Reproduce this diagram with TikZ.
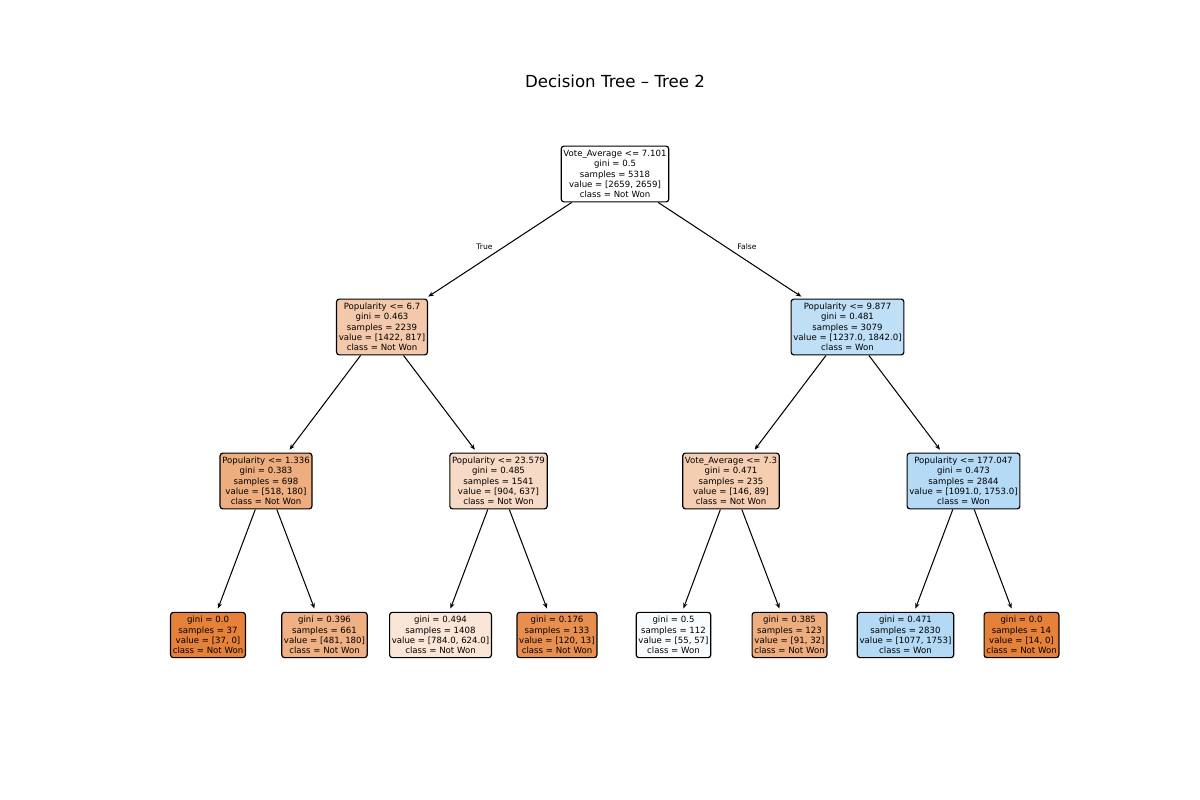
\documentclass[tikz,border=0pt]{standalone}
\usepackage{fontspec}
\setmainfont{DejaVu Sans}
\usetikzlibrary{arrows.meta}
\definecolor{cRoot}{RGB}{255,255,255}
\definecolor{cB}{RGB}{244,201,171}
\definecolor{cC}{RGB}{190,223,246}
\definecolor{cD}{RGB}{238,173,126}
\definecolor{cE}{RGB}{247,218,197}
\definecolor{cF}{RGB}{245,206,178}
\definecolor{cG}{RGB}{180,218,245}
\definecolor{cLa}{RGB}{229,129,57}
\definecolor{cLb}{RGB}{239,176,131}
\definecolor{cLc}{RGB}{250,229,215}
\definecolor{cLd}{RGB}{232,143,79}
\definecolor{cLe}{RGB}{248,252,254}
\definecolor{cLf}{RGB}{238,173,127}
\definecolor{cLg}{RGB}{179,217,245}
\definecolor{cLh}{RGB}{229,129,57}
\begin{document}
\begin{tikzpicture}[x=0.01in,y=-0.01in,
  tn/.style={draw=black, line width=0.85pt, rounded corners=2pt, align=center,
    font=\fontsize{6.2}{7.44}\selectfont, inner xsep=1.6pt, inner ysep=1pt, minimum height=40.3pt},
  lf/.style={tn, minimum height=32.7pt},
  edge/.style={-{Stealth[length=4pt,width=3.2pt]}, line width=0.75pt, shorten >=2.5pt},
  elab/.style={font=\fontsize{5.5}{6.6}\selectfont, inner sep=0pt}]
\useasboundingbox (0,0) rectangle (1200,800);
\node[font=\fontsize{12}{14.4}\selectfont, anchor=base, inner sep=0pt] (title) at (615,88) {Decision Tree – Tree 2};

\node[tn, fill=cRoot] (root) at (615,174) {Vote\_Average <= 7.101\\gini = 0.5\\samples = 5318\\value = [2659, 2659]\\class = Not Won};

\node[tn, fill=cB] (b) at (382,327) {Popularity <= 6.7\\gini = 0.463\\samples = 2239\\value = [1422, 817]\\class = Not Won};
\node[tn, fill=cC] (c) at (847.5,327) {Popularity <= 9.877\\gini = 0.481\\samples = 3079\\value = [1237.0, 1842.0]\\class = Won};

\node[tn, fill=cD] (d) at (266,481) {Popularity <= 1.336\\gini = 0.383\\samples = 698\\value = [518, 180]\\class = Not Won};
\node[tn, fill=cE] (e) at (498.5,481) {Popularity <= 23.579\\gini = 0.485\\samples = 1541\\value = [904, 637]\\class = Not Won};
\node[tn, fill=cF] (f) at (731,481) {Vote\_Average <= 7.3\\gini = 0.471\\samples = 235\\value = [146, 89]\\class = Not Won};
\node[tn, fill=cG] (g) at (963.5,481) {Popularity <= 177.047\\gini = 0.473\\samples = 2844\\value = [1091.0, 1753.0]\\class = Won};

\node[lf, fill=cLa] (l1) at (208,635) {gini = 0.0\\samples = 37\\value = [37, 0]\\class = Not Won};
\node[lf, fill=cLb] (l2) at (324.5,635) {gini = 0.396\\samples = 661\\value = [481, 180]\\class = Not Won};
\node[lf, fill=cLc] (l3) at (440.5,635) {gini = 0.494\\samples = 1408\\value = [784.0, 624.0]\\class = Not Won};
\node[lf, fill=cLd] (l4) at (557,635) {gini = 0.176\\samples = 133\\value = [120, 13]\\class = Not Won};
\node[lf, fill=cLe] (l5) at (673.5,635) {gini = 0.5\\samples = 112\\value = [55, 57]\\class = Won};
\node[lf, fill=cLf] (l6) at (789.5,635) {gini = 0.385\\samples = 123\\value = [91, 32]\\class = Not Won};
\node[lf, fill=cLg] (l7) at (905.5,635) {gini = 0.471\\samples = 2830\\value = [1077, 1753]\\class = Won};
\node[lf, fill=cLh] (l8) at (1021.5,635) {gini = 0.0\\samples = 14\\value = [14, 0]\\class = Not Won};

\draw[edge] (root) -- (b);
\draw[edge] (root) -- (c);
\draw[edge] (b) -- (d);
\draw[edge] (b) -- (e);
\draw[edge] (c) -- (f);
\draw[edge] (c) -- (g);
\draw[edge] (d) -- (l1);
\draw[edge] (d) -- (l2);
\draw[edge] (e) -- (l3);
\draw[edge] (e) -- (l4);
\draw[edge] (f) -- (l5);
\draw[edge] (f) -- (l6);
\draw[edge] (g) -- (l7);
\draw[edge] (g) -- (l8);

\node[elab] (tlab) at (484.5,247) {True};
\node[elab] (flab) at (747,247) {False};
\end{tikzpicture}
\end{document}
